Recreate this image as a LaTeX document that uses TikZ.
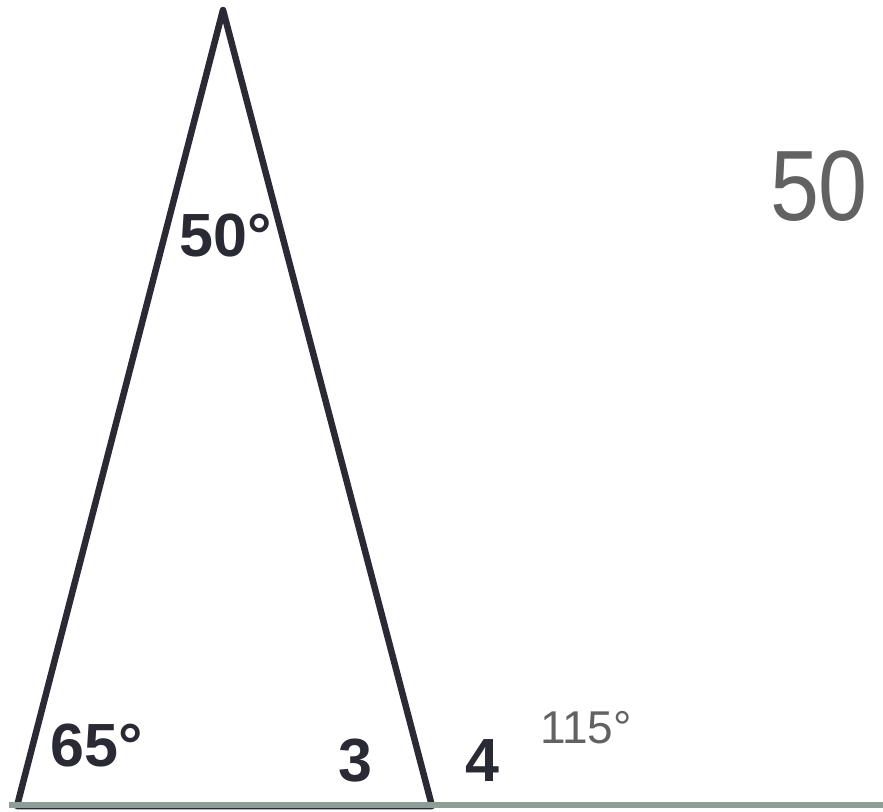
\documentclass[tikz,border=0pt]{standalone}
\usepackage{fontspec}
\setmainfont{Liberation Sans}
\usepackage{xcolor}
\definecolor{edgeink}{HTML}{2A2A35}
\definecolor{baseink}{HTML}{8E9E96}
\definecolor{penink}{HTML}{626262}

\begin{document}
\begin{tikzpicture}[
  x=1pt, y=-1pt,
  edge/.style={draw=edgeink, line width=6.5pt, line join=round},
  baseline/.style={draw=baseink, line width=5.5pt},
  angle/.style={inner sep=0pt, text=edgeink, font=\fontsize{61}{61}\selectfont\bfseries},
  penlabel/.style={inner sep=0pt, text=penink, font=\fontsize{#1}{#1}\selectfont},
  penlabel/.default=46
]
\useasboundingbox (0,0) rectangle (883,811);

\coordinate (apex) at (223,10);
\coordinate (left) at (17,806);
\coordinate (right) at (432,806);
\coordinate (lineend) at (883,805);
\coordinate (linestart) at (9,805);

\draw [edge] (left) -- (apex) -- (right) -- cycle;
\draw [baseline] (linestart) -- (lineend);

\node (top) [angle] at (226,235) {50°};
\node (bl) [angle] at (97,745) {65°};
\node (three) [angle] at (355,761) {3};
\node (four) [angle] at (482,761) {4};
\node (ext) [penlabel] at (586,728) {115°};
\node (note) [penlabel=100, xscale=0.88] at (819,186) {50};

\end{tikzpicture}
\end{document}
